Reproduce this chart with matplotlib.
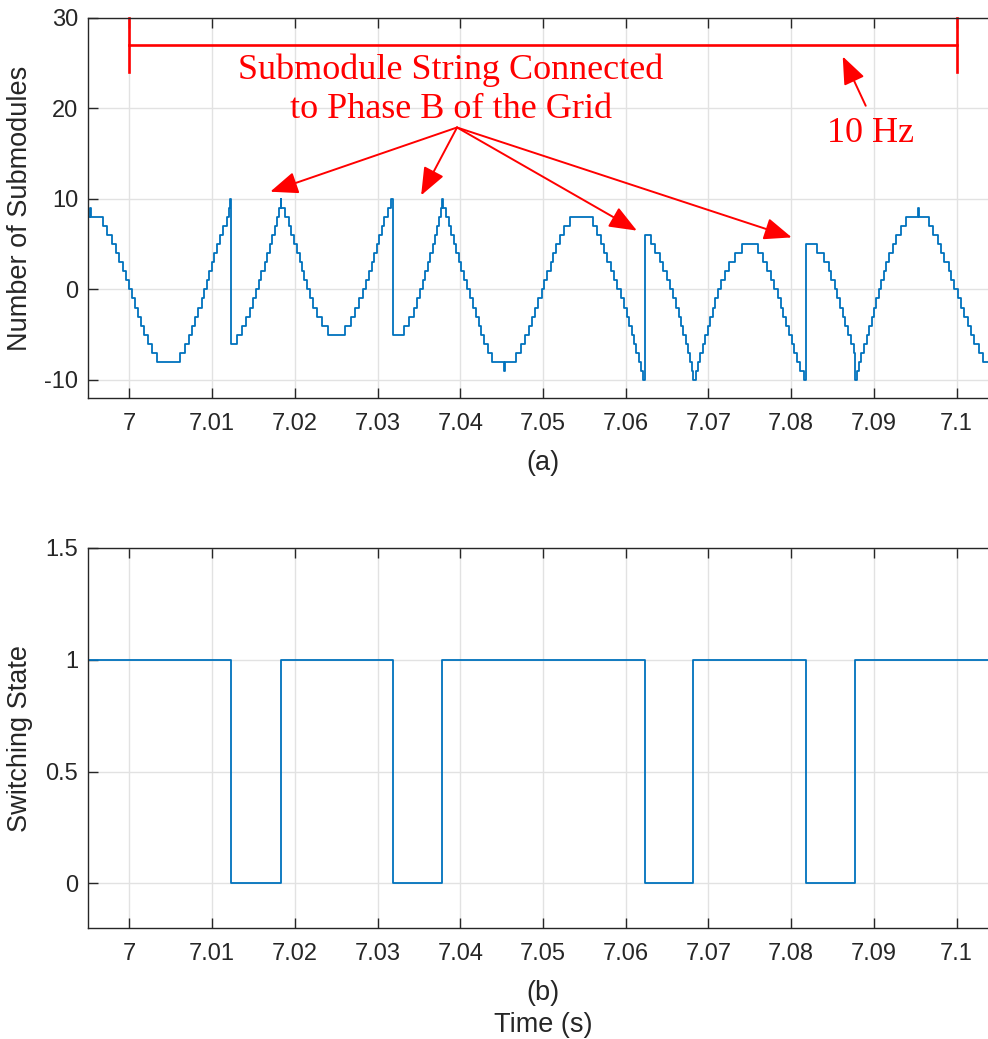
import numpy as np
import matplotlib
matplotlib.use('Agg')
import matplotlib.pyplot as plt
from matplotlib.patches import FancyArrowPatch

plt.rcParams.update({'font.family': 'Liberation Sans', 'font.size': 16,
                     'axes.linewidth': 1.0, 'axes.edgecolor': '#262626',
                     'axes.unicode_minus': False,
                     'xtick.color': '#262626', 'ytick.color': '#262626',
                     'xtick.direction': 'in', 'ytick.direction': 'in'})

# inserted submodule count: switching instants [s] and the level held after each
t_sub = [6.99500, 6.99529, 6.99541, 6.99686, 6.99734, 6.99786, 6.99835, 6.99879,
         6.99919, 6.99955, 6.99996, 7.00036, 7.00069, 7.00100, 7.00141, 7.00181,
         7.00221, 7.00269, 7.00330, 7.00612, 7.00673, 7.00721, 7.00761, 7.00794,
         7.00833, 7.00873, 7.00906, 7.00934, 7.00963, 7.00994, 7.01027, 7.01054,
         7.01095, 7.01135, 7.01175, 7.01204, 7.01216, 7.01228, 7.01301, 7.01361,
         7.01413, 7.01453, 7.01489, 7.01530, 7.01562, 7.01594, 7.01634, 7.01663,
         7.01694, 7.01723, 7.01755, 7.01784, 7.01812, 7.01827, 7.01839, 7.01884,
         7.01924, 7.01957, 7.01996, 7.02025, 7.02057, 7.02086, 7.02117, 7.02146,
         7.02182, 7.02222, 7.02271, 7.02327, 7.02407, 7.02609, 7.02681, 7.02730,
         7.02781, 7.02823, 7.02862, 7.02902, 7.02931, 7.02963, 7.02992, 7.03023,
         7.03052, 7.03083, 7.03132, 7.03168, 7.03185, 7.03325, 7.03385, 7.03438,
         7.03478, 7.03518, 7.03547, 7.03579, 7.03611, 7.03639, 7.03668, 7.03692,
         7.03720, 7.03748, 7.03772, 7.03780, 7.03792, 7.03829, 7.03861, 7.03893,
         7.03922, 7.03949, 7.03982, 7.04013, 7.04042, 7.04082, 7.04122, 7.04155,
         7.04191, 7.04223, 7.04255, 7.04291, 7.04336, 7.04384, 7.04529, 7.04541,
         7.04674, 7.04738, 7.04786, 7.04827, 7.04864, 7.04903, 7.04943, 7.04984,
         7.05012, 7.05052, 7.05093, 7.05124, 7.05161, 7.05202, 7.05254, 7.05323,
         7.05604, 7.05656, 7.05697, 7.05737, 7.05777, 7.05818, 7.05858, 7.05897,
         7.05938, 7.05978, 7.06011, 7.06039, 7.06071, 7.06099, 7.06127, 7.06159,
         7.06187, 7.06211, 7.06232, 7.06301, 7.06353, 7.06413, 7.06453, 7.06494,
         7.06534, 7.06574, 7.06603, 7.06639, 7.06667, 7.06694, 7.06727, 7.06755,
         7.06779, 7.06800, 7.06815, 7.06848, 7.06868, 7.06896, 7.06929, 7.06960,
         7.06989, 7.07017, 7.07050, 7.07081, 7.07110, 7.07150, 7.07202, 7.07250,
         7.07323, 7.07403, 7.07593, 7.07661, 7.07705, 7.07754, 7.07798, 7.07835,
         7.07874, 7.07907, 7.07943, 7.07975, 7.08007, 7.08040, 7.08076, 7.08112,
         7.08149, 7.08176, 7.08318, 7.08394, 7.08454, 7.08487, 7.08527, 7.08559,
         7.08591, 7.08623, 7.08656, 7.08687, 7.08720, 7.08756, 7.08768, 7.08792,
         7.08816, 7.08849, 7.08880, 7.08913, 7.08946, 7.08973, 7.09001, 7.09030,
         7.09058, 7.09086, 7.09118, 7.09146, 7.09187, 7.09227, 7.09267, 7.09327,
         7.09388, 7.09529, 7.09541, 7.09670, 7.09719, 7.09771, 7.09810, 7.09851,
         7.09903, 7.09931, 7.09972, 7.10012, 7.10052, 7.10093, 7.10133, 7.10173,
         7.10214, 7.10266, 7.10322, 7.10500]
n_sub = [8, 9, 8, 7, 6, 5, 4, 3,
         2, 1, 0, -1, -2, -3, -4, -5,
         -6, -7, -8, -7, -6, -5, -4, -3,
         -2, -1, 0, 1, 2, 3, 4, 5,
         6, 7, 8, 9, 10, -6, -5, -4,
         -3, -2, -1, 0, 1, 2, 3, 4,
         5, 6, 7, 8, 9, 10, 9, 8,
         7, 6, 5, 4, 3, 2, 1, 0,
         -1, -2, -3, -4, -5, -4, -3, -2,
         -1, 0, 1, 2, 3, 4, 5, 6,
         7, 8, 9, 10, -5, -4, -3, -2,
         -1, 0, 1, 2, 3, 4, 5, 6,
         7, 8, 9, 10, 9, 8, 7, 6,
         5, 4, 3, 2, 1, 0, -1, -2,
         -3, -4, -5, -6, -7, -8, -9, -8,
         -7, -6, -5, -4, -3, -2, -1, 0,
         1, 2, 3, 4, 5, 6, 7, 8,
         7, 6, 5, 4, 3, 2, 1, 0,
         -1, -2, -3, -4, -5, -6, -7, -8,
         -9, -10, 6, 5, 4, 3, 2, 1,
         0, -1, -2, -3, -4, -5, -6, -7,
         -8, -9, -10, -9, -8, -7, -6, -5,
         -4, -3, -2, -1, 0, 1, 2, 3,
         4, 5, 4, 3, 2, 1, 0, -1,
         -2, -3, -4, -5, -6, -7, -8, -9,
         -10, 5, 4, 3, 2, 1, 0, -1,
         -2, -3, -4, -5, -6, -7, -10, -9,
         -8, -7, -6, -5, -4, -3, -2, -1,
         0, 1, 2, 3, 4, 5, 6, 7,
         8, 9, 8, 7, 6, 5, 4, 3,
         2, 1, 0, -1, -2, -3, -4, -5,
         -6, -7, -8, -8]

# string switching state (1 = normal arm, 0 = connected to phase B)
t_state = [6.995, 7.01228, 7.01827, 7.03185, 7.03780, 7.06232, 7.06812,
           7.08176, 7.08768, 7.105]
state = [1, 0, 1, 0, 1, 0, 1, 0, 1, 1]

xticks = [7.0, 7.01, 7.02, 7.03, 7.04, 7.05, 7.06, 7.07, 7.08, 7.09, 7.1]
xticklabels = ['7', '7.01', '7.02', '7.03', '7.04', '7.05', '7.06', '7.07',
               '7.08', '7.09', '7.1']

BLUE = '#0072BD'
RED = '#ff0000'
SERIF = 'Liberation Serif'
LABEL_FS = 19.5

fig = plt.figure(figsize=(9.88, 10.39), dpi=100)
W, H = 988, 1039
ax1 = fig.add_axes([88 / W, (H - 398) / H, 910 / W, 380 / H])
ax2 = fig.add_axes([88 / W, (H - 928) / H, 910 / W, 380 / H])


def style(ax):
    ax.set_xlim(6.995, 7.105)
    ax.set_xticks(xticks)
    ax.set_xticklabels(xticklabels)
    ax.grid(True, color='#e2e2e2', lw=1.0)
    ax.set_axisbelow(True)
    ax.tick_params(which='both', top=True, right=True, length=7, width=1.0,
                   labelsize=17)
    ax.tick_params(axis='x', pad=11)
    ax.tick_params(axis='y', pad=7)
    ax.yaxis.set_label_coords(-0.060, 0.5)


# ── (a) number of inserted submodules ───────────────────────────────────────
ax1.step(t_sub, n_sub, where='post', color=BLUE, lw=1.3)
style(ax1)
ax1.set_ylim(-12, 30)
ax1.set_yticks([-10, 0, 10, 20, 30])
ax1.set_ylabel('Number of Submodules', fontsize=LABEL_FS, color='#262626')

# 10 Hz bracket
for xs, ys in [([7.0, 7.1], [27, 27]), ([7.0, 7.0], [24, 30]), ([7.1, 7.1], [24, 30])]:
    ax1.plot(xs, ys, color=RED, lw=1.9, clip_on=False)

ax1.text(7.03889, 22.1, 'Submodule String Connected\nto Phase B of the Grid',
         ha='center', va='center', multialignment='center', linespacing=1.25,
         fontsize=26, color=RED, family=SERIF)
ax1.text(7.08961, 17.2, '10 Hz', ha='center', va='center',
         fontsize=26, color=RED, family=SERIF)


def red_arrow(ax, tail, tip):
    ax.add_patch(FancyArrowPatch(tail, tip,
                                 arrowstyle='-|>,head_length=1.0,head_width=0.4',
                                 mutation_scale=17, color=RED, lw=1.4,
                                 shrinkA=0, shrinkB=0))


origin = (7.03961, 17.9)
for tip in [(7.01703, 10.8), (7.03527, 10.4), (7.06135, 6.5), (7.08007, 5.75)]:
    red_arrow(ax1, origin, tip)
red_arrow(ax1, (7.08901, 20.3), (7.08623, 25.75))

fig.text(543 / W, 1 - 463 / H, '(a)', ha='center', va='center',
         fontsize=LABEL_FS, color='#262626')

# ── (b) switching state ─────────────────────────────────────────────────────
ax2.step(t_state, state, where='post', color=BLUE, lw=1.3)
style(ax2)
ax2.set_ylim(-0.2, 1.5)
ax2.set_yticks([0, 0.5, 1, 1.5])
ax2.set_yticklabels(['0', '0.5', '1', '1.5'])
ax2.set_ylabel('Switching State', fontsize=LABEL_FS, color='#262626')

fig.text(543 / W, 1 - 993 / H, '(b)', ha='center', va='center',
         fontsize=LABEL_FS, color='#262626')
fig.text(543 / W, 1 - 1025 / H, 'Time (s)', ha='center', va='center',
         fontsize=LABEL_FS, color='#262626')

fig.savefig('out.png', dpi=100)
